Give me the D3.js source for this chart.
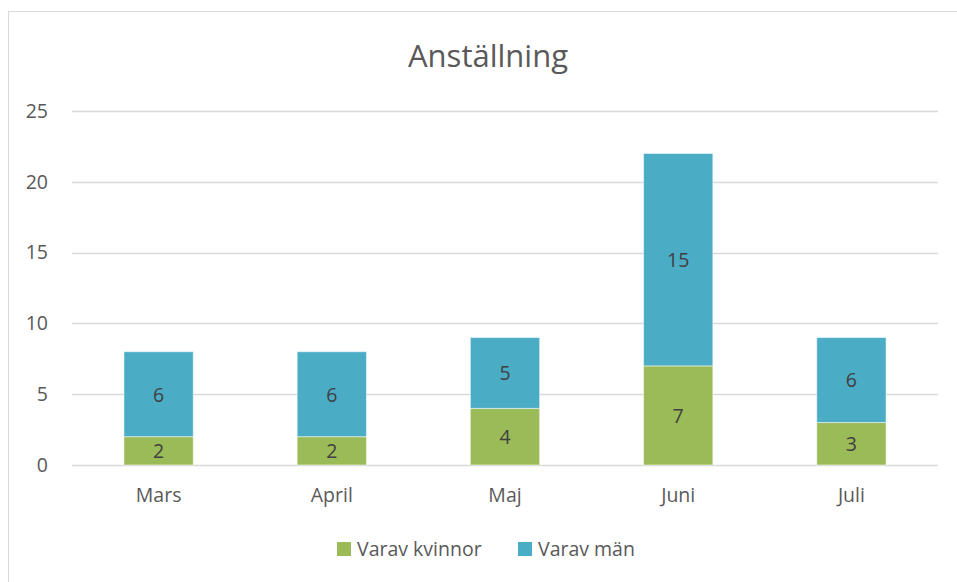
<!DOCTYPE html>
<html>
<head>
<meta charset="utf-8">
<script src="https://cdn.jsdelivr.net/npm/d3@7"></script>
<style>
  body { margin: 0; background: #fff; }
  svg { display: block; font-family: "Open Sans", "Noto Sans", sans-serif; }
</style>
</head>
<body>
<svg width="957" height="582"></svg>
<script>
// data
var months = ["Mars", "April", "Maj", "Juni", "Juli"];
var kvinnor = [2, 2, 4, 7, 3];
var man = [6, 6, 5, 15, 6];
var seriesNames = ["Varav kvinnor", "Varav män"];
var seriesColors = ["#9bbb59", "#4bacc6"];
var yTicks = [0, 5, 10, 15, 20, 25];

var svg = d3.select("svg"),
    width = +svg.attr("width"),
    height = +svg.attr("height");

// chart frame
svg.append("rect")
    .attr("x", 8.5).attr("y", 11.5)
    .attr("width", 960).attr("height", 600)
    .attr("fill", "none")
    .attr("stroke", "#d9d9d9");

svg.append("text")
    .attr("x", 488).attr("y", 67)
    .attr("text-anchor", "middle")
    .attr("font-size", 31)
    .attr("fill", "#595959")
    .text("Anställning");

var x = d3.scaleBand()
    .domain(months)
    .range([72, 938])
    .paddingInner(0.6)
    .paddingOuter(0.3);

var y = d3.scaleLinear()
    .domain([0, 25])
    .range([465, 111]);

// gridlines
svg.append("g")
    .selectAll("line")
    .data(yTicks)
    .enter().append("line")
    .attr("x1", 72).attr("x2", 938)
    .attr("y1", d => Math.round(y(d)) + 0.5)
    .attr("y2", d => Math.round(y(d)) + 0.5)
    .attr("stroke", "#d9d9d9")
    .attr("stroke-width", 1.3);

// y axis labels
var yAxis = d3.axisLeft(y).tickValues(yTicks).tickSize(0).tickPadding(0);
var gy = svg.append("g")
    .attr("transform", "translate(48,0)")
    .call(yAxis);
gy.select(".domain").remove();
gy.selectAll("text")
    .attr("font-size", 19.5)
    .attr("fill", "#595959")
    .attr("font-family", "'Open Sans', sans-serif");

// x axis labels
var xAxis = d3.axisBottom(x).tickSize(0).tickPadding(0);
var gx = svg.append("g")
    .attr("transform", "translate(0,488)")
    .call(xAxis);
gx.select(".domain").remove();
gx.selectAll("text")
    .attr("font-size", 19.5)
    .attr("fill", "#595959")
    .attr("font-family", "'Open Sans', sans-serif");

// stacked bars
var table = months.map((m, i) => ({ month: m, kvinnor: kvinnor[i], man: man[i] }));
var stack = d3.stack().keys(["kvinnor", "man"])(table);

var layers = svg.append("g")
    .selectAll("g")
    .data(stack)
    .enter().append("g")
    .attr("fill", (d, i) => seriesColors[i]);

layers.selectAll("rect")
    .data(d => d)
    .enter().append("rect")
    .attr("x", d => x(d.data.month))
    .attr("y", d => y(d[1]))
    .attr("width", x.bandwidth())
    .attr("height", d => y(d[0]) - y(d[1]))
    .attr("stroke", "#ffffff")
    .attr("stroke-opacity", 0.5)
    .attr("stroke-width", 1);

layers.selectAll("text")
    .data(d => d)
    .enter().append("text")
    .attr("x", d => x(d.data.month) + x.bandwidth() / 2)
    .attr("y", d => (y(d[0]) + y(d[1])) / 2)
    .attr("dy", "0.38em")
    .attr("text-anchor", "middle")
    .attr("font-size", 19.5)
    .attr("fill", "#404040")
    .text(d => d[1] - d[0]);

// legend
var legendX = [337, 518];
var legend = svg.append("g")
    .selectAll("g")
    .data(seriesNames)
    .enter().append("g")
    .attr("transform", (d, i) => "translate(" + legendX[i] + ",542)");

legend.append("rect")
    .attr("width", 14).attr("height", 14)
    .attr("fill", (d, i) => seriesColors[i]);

legend.append("text")
    .attr("x", 20).attr("y", 7)
    .attr("dy", "0.36em")
    .attr("font-size", 19.5)
    .attr("fill", "#595959")
    .text(d => d);
</script>
</body>
</html>
